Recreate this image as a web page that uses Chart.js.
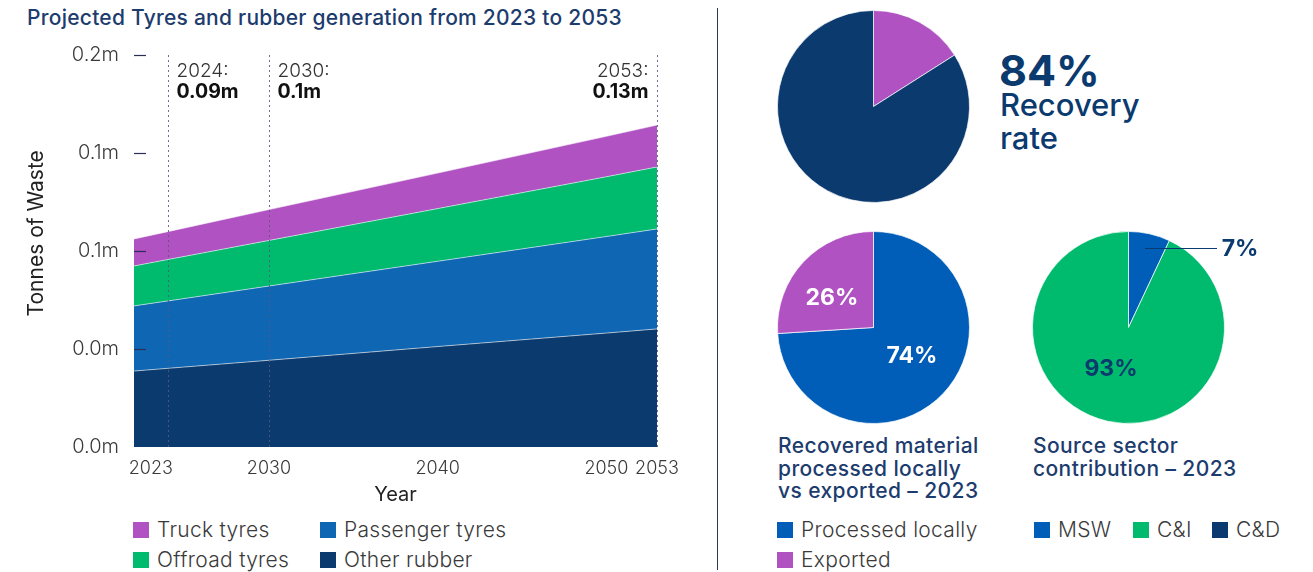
<!DOCTYPE html>
<html>
<head>
<meta charset="utf-8">
<script src="https://cdn.jsdelivr.net/npm/chart.js@4.4.1/dist/chart.umd.min.js"></script>
<style>
  body { margin: 0; background: #fff; font-family: Inter, sans-serif; }
  #wrap { position: relative; width: 1313px; height: 572px; overflow: hidden; }
  .abs { position: absolute; }
  .title { left: 27px; top: 5px; font-size: 21px; font-weight: 500; color: #1d3c6e; white-space: nowrap; letter-spacing: 0.25px; }
  .sep { left: 717px; top: 8px; width: 1px; height: 562px; background: #2a3a60; }
  .leg { font-size: 21px; font-weight: 300; color: #3a3a3a; white-space: nowrap; display: flex; align-items: center; letter-spacing: 0.3px; }
  .leg i { display: inline-block; width: 16px; height: 16px; margin-right: 8px; }
  .sub { font-size: 21px; font-weight: 500; color: #1d3c6e; line-height: 22.5px; white-space: nowrap; letter-spacing: 0.4px; }
  .pct { font-size: 23px; font-weight: 700; transform: translate(-50%, -50%); white-space: nowrap; }
</style>
</head>
<body>
<div id="wrap">
  <div class="abs title">Projected Tyres and rubber generation from 2023 to 2053</div>
  <div class="abs" style="left:0;top:0;width:710px;height:510px"><canvas id="area"></canvas></div>
  <div class="abs sep"></div>

  <div class="abs leg" style="left:133px;top:517px"><i style="background:#b052c2"></i>Truck tyres</div>
  <div class="abs leg" style="left:320px;top:517px"><i style="background:#0f67b4"></i>Passenger tyres</div>
  <div class="abs leg" style="left:133px;top:547px"><i style="background:#00ba6e"></i>Offroad tyres</div>
  <div class="abs leg" style="left:320px;top:547px"><i style="background:#0b3a6f"></i>Other rubber</div>

  <div class="abs" style="left:777px;top:10px;width:193px;height:193px"><canvas id="pie1"></canvas></div>
  <div class="abs" style="left:999px;top:44px;font-size:43px;font-weight:700;color:#0b3a6f">84%</div>
  <div class="abs" style="left:1000px;top:88px;font-size:31px;font-weight:500;color:#0b3a6f;line-height:33px">Recovery<br>rate</div>

  <div class="abs" style="left:777px;top:231px;width:193px;height:193px"><canvas id="pie2"></canvas></div>
  <div class="abs pct" style="left:832px;top:297px;color:#fff">26%</div>
  <div class="abs pct" style="left:912px;top:355px;color:#fff">74%</div>

  <div class="abs" style="left:1032px;top:231px;width:193px;height:193px"><canvas id="pie3"></canvas></div>
  <div class="abs pct" style="left:1111px;top:368px;color:#0b3a6f">93%</div>
  <div class="abs" style="left:1145px;top:248px;width:72px;height:0;border-top:1.5px solid #0b3a6f"></div>
  <div class="abs pct" style="left:1240px;top:248px;color:#0b3a6f">7%</div>

  <div class="abs sub" style="left:778px;top:435px">Recovered material<br>processed locally<br>vs exported – 2023</div>
  <div class="abs sub" style="left:1033px;top:435px">Source sector<br>contribution – 2023</div>

  <div class="abs leg" style="left:777px;top:517px"><i style="background:#005eb8"></i>Processed locally</div>
  <div class="abs leg" style="left:777px;top:547px"><i style="background:#b052c2"></i>Exported</div>
  <div class="abs leg" style="left:1034px;top:517px"><i style="background:#005eb8"></i>MSW</div>
  <div class="abs leg" style="left:1133px;top:517px"><i style="background:#00ba6e"></i>C&amp;I</div>
  <div class="abs leg" style="left:1212px;top:517px"><i style="background:#0b3a6f"></i>C&amp;D</div>
</div>

<script>
// values, in million tonnes
const years = [2022, 2024, 2030, 2040, 2050, 2053];
const otherRubber = [0.0310, 0.0321, 0.0354, 0.0410, 0.0465, 0.0482];
const passengerTyres = [0.0266, 0.0275, 0.0303, 0.0348, 0.0394, 0.0408];
const offroadTyres = [0.0163, 0.0169, 0.0186, 0.0215, 0.0244, 0.0253];
const truckTyres = [0.0110, 0.0114, 0.0126, 0.0145, 0.0165, 0.0171];

const xTickYears = [2023, 2030, 2040, 2050, 2053];
const yTicks = [0, 0.04, 0.08, 0.12, 0.16];

const calloutYears = [2024, 2030, 2053];
const calloutValues = ["0.09m", "0.1m", "0.13m"];

const recoveryLabels = ["Not recovered", "Recovered"];
const recoveryValues = [16, 84];
const destLabels = ["Processed locally", "Exported"];
const destValues = [74, 26];
const sectorLabels = ["MSW", "C&I", "C&D"];
const sectorValues = [7, 93, 0];

const FONT = "Inter, sans-serif";

function pts(arr) {
  return arr.map((v, i) => ({ x: years[i], y: v }));
}

const extras = {
  id: "extras",
  afterDatasetsDraw(chart) {
    const ctx = chart.ctx;
    const x = chart.scales.x;
    const y = chart.scales.y;
    const top = chart.chartArea.top;
    const bottom = chart.chartArea.bottom;
    ctx.save();

    // small dash ticks on the y axis
    ctx.strokeStyle = "#2b2f55";
    ctx.lineWidth = 1.2;
    yTicks.forEach(t => {
      if (t === 0) return;
      const py = Math.round(y.getPixelForValue(t)) + 0.5;
      ctx.beginPath();
      ctx.moveTo(x.left, py);
      ctx.lineTo(x.left + 12, py);
      ctx.stroke();
    });

    // dotted callout lines and labels
    calloutYears.forEach((yr, i) => {
      const px = Math.round(x.getPixelForValue(yr)) + 0.5;
      ctx.strokeStyle = "rgba(90,85,130,0.85)";
      ctx.lineWidth = 1;
      ctx.setLineDash([2, 3]);
      ctx.beginPath();
      ctx.moveTo(px, top);
      ctx.lineTo(px, bottom);
      ctx.stroke();
      ctx.setLineDash([]);

      const right = i === calloutYears.length - 1;
      ctx.textAlign = right ? "right" : "left";
      ctx.textBaseline = "middle";
      const tx = right ? px - 9 : px + 8;
      ctx.fillStyle = "#333";
      ctx.font = "300 19px " + FONT;
      ctx.fillText(yr + ":", tx, 71);
      ctx.fillStyle = "#111";
      ctx.font = "bold 19.5px " + FONT;
      ctx.fillText(calloutValues[i], tx, 92);
    });
    ctx.restore();
  }
};

new Chart(document.getElementById("area"), {
  type: "line",
  data: {
    datasets: [
      { label: "Other rubber", data: pts(otherRubber), backgroundColor: "#0b3a6f", fill: "origin" },
      { label: "Passenger tyres", data: pts(passengerTyres), backgroundColor: "#0f67b4", fill: "-1" },
      { label: "Offroad tyres", data: pts(offroadTyres), backgroundColor: "#00ba6e", fill: "-1" },
      { label: "Truck tyres", data: pts(truckTyres), backgroundColor: "#b052c2", fill: "-1" }
    ]
  },
  options: {
    responsive: true,
    maintainAspectRatio: false,
    animation: false,
    elements: {
      point: { radius: 0 },
      line: { borderColor: "rgba(255,255,255,0.55)", borderWidth: 1, tension: 0 }
    },
    layout: { padding: { top: 55, right: 53, left: 0, bottom: 0 } },
    plugins: { legend: { display: false }, tooltip: { enabled: false } },
    scales: {
      x: {
        type: "linear",
        min: 2022,
        max: 2053,
        grid: { display: false, drawTicks: false },
        border: { display: false },
        afterBuildTicks: s => { s.ticks = xTickYears.map(v => ({ value: v })); },
        afterFit: s => { s.height = 63; },
        ticks: {
          color: "#3a3a3a",
          font: { family: FONT, size: 18, weight: 300 },
          padding: 11,
          maxRotation: 0,
          autoSkip: false,
          callback: v => String(v)
        },
        title: {
          display: true,
          text: "Year",
          color: "#222",
          font: { family: FONT, size: 20 },
          padding: { top: 0, bottom: 3 }
        }
      },
      y: {
        stacked: true,
        min: 0,
        max: 0.16,
        grid: { display: false, drawTicks: false },
        border: { display: false },
        afterBuildTicks: s => { s.ticks = yTicks.map(v => ({ value: v })); },
        afterFit: s => { s.width = 134; },
        ticks: {
          color: "#3a3a3a",
          font: { family: FONT, size: 20, weight: 300 },
          padding: 15,
          callback: v => v.toFixed(1) + "m"
        },
        title: {
          display: true,
          text: "      Tonnes of Waste",
          color: "#222",
          font: { family: FONT, size: 21 },
          padding: { top: 24, bottom: 0 }
        }
      }
    }
  },
  plugins: [extras]
});

function pie(id, labels, values, colors) {
  new Chart(document.getElementById(id), {
    type: "pie",
    data: {
      labels: labels,
      datasets: [{
        data: values,
        backgroundColor: colors,
        borderColor: "rgba(255,255,255,0.7)",
        borderWidth: 1
      }]
    },
    options: {
      responsive: true,
      maintainAspectRatio: false,
      animation: false,
      plugins: { legend: { display: false }, tooltip: { enabled: false } }
    }
  });
}

pie("pie1", recoveryLabels, recoveryValues, ["#b052c2", "#0b3a6f"]);
pie("pie2", destLabels, destValues, ["#005eb8", "#b052c2"]);
pie("pie3", sectorLabels, sectorValues, ["#005eb8", "#00ba6e", "#0b3a6f"]);
</script>
</body>
</html>
